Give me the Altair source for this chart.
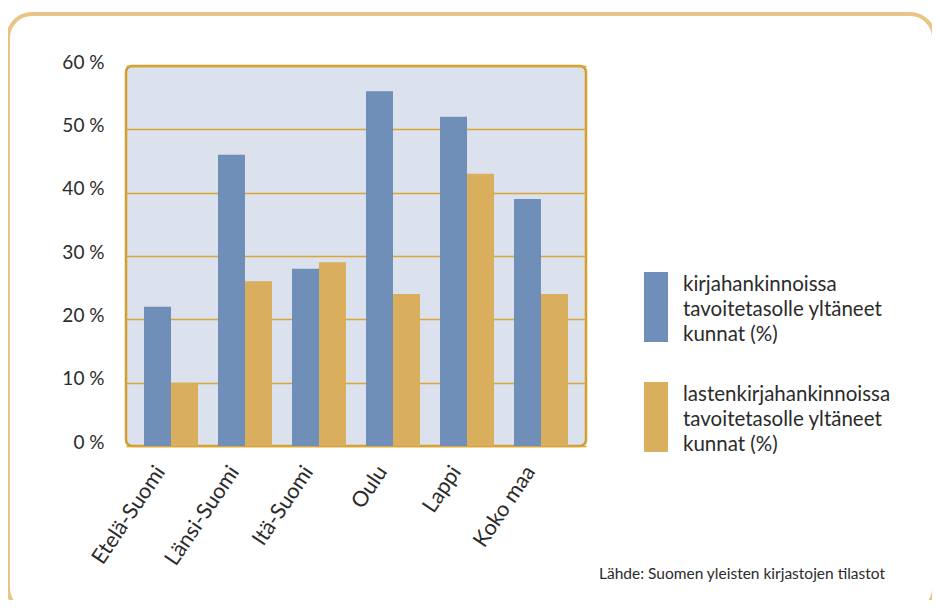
import altair as alt
import pandas as pd

regions = ["Etelä-Suomi", "Länsi-Suomi", "Itä-Suomi", "Oulu", "Lappi", "Koko maa"]
series = [
    "kirjahankinnoissa|tavoitetasolle yltäneet|kunnat (%)",
    "lastenkirjahankinnoissa|tavoitetasolle yltäneet|kunnat (%)",
]
books = [22, 46, 28, 56, 52, 39]
children = [10, 26, 29, 24, 43, 24]
colors = ["#6F8FB8", "#D9AE5C"]
y_ticks = [0, 10, 20, 30, 40, 50, 60]
source = "Lähde: Suomen yleisten kirjastojen tilastot"

rows = []
for r, a, b in zip(regions, books, children):
    rows.append({"alue": r, "sarja": series[0], "arvo": a})
    rows.append({"alue": r, "sarja": series[1], "arvo": b})
df = pd.DataFrame(rows)

FONT = "Lato"
TXT = "#2b2b2b"

frame = alt.Chart(alt.Data(values=[{"k": 1}])).mark_rect(
    fillOpacity=0, stroke="#E8C586", strokeWidth=4, cornerRadius=24
).encode(
    x=alt.value(-118), x2=alt.value(808), y=alt.value(-52), y2=alt.value(546)
)

bars = alt.Chart(df).mark_bar().encode(
    x=alt.X("alue:N", sort=regions, title=None,
            scale=alt.Scale(paddingInner=0.27, paddingOuter=0.243),
            axis=alt.Axis(labelAngle=304, labelAlign="right", labelBaseline="middle",
                          labelFontSize=21.5, labelFont=FONT, labelColor=TXT,
                          labelPadding=22, labelOffset=-10, domain=False, ticks=False,
                          grid=False)),
    xOffset=alt.XOffset("sarja:N", sort=series),
    y=alt.Y("arvo:Q", title=None,
            scale=alt.Scale(domain=[0, 60], nice=False),
            axis=alt.Axis(values=y_ticks, labelExpr="datum.value + ' %'",
                          labelFontSize=19, labelFont=FONT, labelColor=TXT,
                          labelPadding=22, labelOffset=-4, domain=False, ticks=False,
                          grid=True, gridColor="#D8A536", gridWidth=1.5)),
    color=alt.Color("sarja:N", sort=series,
                    scale=alt.Scale(domain=series, range=colors),
                    legend=alt.Legend(title=None, orient="none", legendX=506, legendY=195,
                                      symbolType="M-0.5,-0.541H0.5V2.375H-0.5Z",
                                      symbolSize=2304, symbolStrokeWidth=0,
                                      labelExpr="split(datum.label, '|')",
                                      labelFontSize=20.5, labelFont=FONT, labelColor=TXT,
                                      labelOffset=3, rowPadding=25, padding=0,
                                      labelLimit=400)),
)

chart = alt.layer(frame, bars).properties(
    width=460, height=380,
    padding={"left": 118, "top": 58, "right": 346, "bottom": 154},
    autosize="none",
    title=alt.TitleParams(text=source, orient="bottom", anchor="end", frame="group",
                          dx=299, dy=-51, fontSize=15.5, font=FONT, fontWeight="normal",
                          color=TXT),
).configure(
    style={"guide-label": {"lineHeight": 25}},
    view=alt.ViewConfig(fill="#DCE2ED", stroke="#D49E2A", strokeWidth=2.5, cornerRadius=6),
)

chart.save("out.html", embed_options={"renderer": "svg", "actions": False})
